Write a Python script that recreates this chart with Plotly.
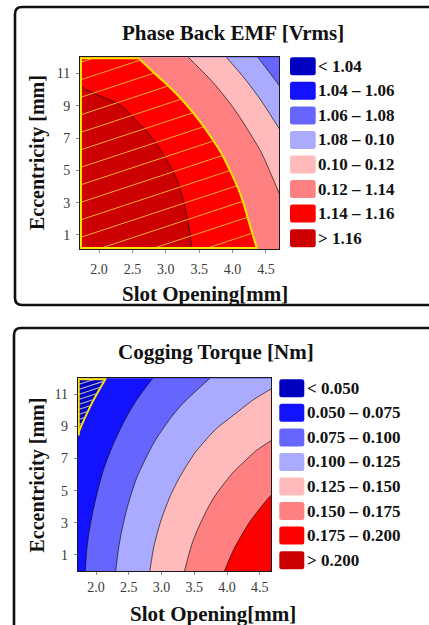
import numpy as np
import plotly.graph_objects as go

# ------------------------------------------------------------------ data
slot_opening = [1.7, 2.0, 2.3, 2.6, 2.9, 3.2, 3.5, 3.8, 4.1, 4.4, 4.7]   # x grid [mm]
eccentricity = [0, 1.5, 3, 4.5, 6, 7.5, 9, 10.5, 12]                     # y grid [mm]

# Phase back EMF [Vrms], rows = eccentricity, cols = slot opening
back_emf = [
    [1.1817, 1.1779, 1.1742, 1.1704, 1.1666, 1.1629, 1.1585, 1.1523, 1.1460, 1.1395, 1.1288],
    [1.1821, 1.1782, 1.1742, 1.1703, 1.1664, 1.1624, 1.1575, 1.1510, 1.1444, 1.1365, 1.1259],
    [1.1818, 1.1777, 1.1736, 1.1696, 1.1655, 1.1614, 1.1555, 1.1487, 1.1419, 1.1325, 1.1221],
    [1.1805, 1.1763, 1.1721, 1.1680, 1.1638, 1.1594, 1.1525, 1.1455, 1.1379, 1.1276, 1.1164],
    [1.1779, 1.1738, 1.1696, 1.1654, 1.1613, 1.1552, 1.1482, 1.1413, 1.1318, 1.1219, 1.1089],
    [1.1739, 1.1698, 1.1658, 1.1618, 1.1563, 1.1496, 1.1429, 1.1345, 1.1249, 1.1136, 1.1005],
    [1.1678, 1.1642, 1.1606, 1.1551, 1.1491, 1.1431, 1.1355, 1.1264, 1.1162, 1.1037, 1.0897],
    [1.1584, 1.1542, 1.1500, 1.1458, 1.1416, 1.1347, 1.1262, 1.1167, 1.1050, 1.0921, 1.0779],
    [1.1516, 1.1477, 1.1438, 1.1397, 1.1319, 1.1242, 1.1150, 1.1043, 1.0922, 1.0790, 1.0640],
]

# Cogging torque [Nm]
cogging_torque = [
    [0.0681, 0.0833, 0.1000, 0.1144, 0.1288, 0.1433, 0.1566, 0.1689, 0.1803, 0.1908, 0.2014],
    [0.0670, 0.0817, 0.0978, 0.1120, 0.1259, 0.1393, 0.1522, 0.1633, 0.1743, 0.1845, 0.1946],
    [0.0649, 0.0789, 0.0945, 0.1085, 0.1217, 0.1342, 0.1466, 0.1572, 0.1671, 0.1771, 0.1869],
    [0.0618, 0.0752, 0.0900, 0.1040, 0.1164, 0.1284, 0.1395, 0.1505, 0.1595, 0.1685, 0.1773],
    [0.0577, 0.0709, 0.0845, 0.0984, 0.1101, 0.1216, 0.1319, 0.1416, 0.1512, 0.1593, 0.1675],
    [0.0528, 0.0655, 0.0783, 0.0912, 0.1033, 0.1136, 0.1240, 0.1324, 0.1407, 0.1489, 0.1564],
    [0.0471, 0.0593, 0.0715, 0.0834, 0.0951, 0.1053, 0.1143, 0.1233, 0.1301, 0.1363, 0.1426],
    [0.0407, 0.0522, 0.0637, 0.0752, 0.0856, 0.0960, 0.1045, 0.1119, 0.1193, 0.1263, 0.1320],
    [0.0342, 0.0447, 0.0553, 0.0658, 0.0762, 0.0849, 0.0936, 0.1017, 0.1079, 0.1141, 0.1204],
]

emf_levels = [1.04, 1.06, 1.08, 1.10, 1.12, 1.14, 1.16]
cogging_levels = [0.050, 0.075, 0.100, 0.125, 0.150, 0.175, 0.200]
emf_limit = 1.14        # feasible region: EMF above this
cogging_limit = 0.050   # feasible region: torque below this

emf_labels = ["< 1.04", "1.04 – 1.06", "1.06 – 1.08", "1.08 – 0.10",
              "0.10 – 0.12", "0.12 – 1.14", "1.14 – 1.16", "> 1.16"]
cogging_labels = ["< 0.050", "0.050 – 0.075", "0.075 – 0.100", "0.100 – 0.125",
                  "0.125 – 0.150", "0.150 – 0.175", "0.175 – 0.200", "> 0.200"]

xtick_vals = [2.0, 2.5, 3.0, 3.5, 4.0, 4.5]
ytick_vals = [1, 3, 5, 7, 9, 11]

titles = ["Phase Back EMF [Vrms]", "Cogging Torque [Nm]"]
x_title = "Slot Opening[mm]"
y_title = "Eccentricity [mm]"

# ------------------------------------------------------------------ style
W, H = 429, 625
SERIF = "Liberation Serif, Times New Roman, serif"
band_colors = ["#0000C0", "#1212FF", "#6666FF", "#AAAAFF",
               "#FFBBBB", "#FF8080", "#FF0000", "#CC0000"]


def PX(x):
    return x / W


def PY(y):
    return 1 - y / H


def rrect(x0, y0, x1, y1, r):
    return (f"M {PX(x0 + r)},{PY(y0)} L {PX(x1 - r)},{PY(y0)} "
            f"Q {PX(x1)},{PY(y0)} {PX(x1)},{PY(y0 + r)} L {PX(x1)},{PY(y1 - r)} "
            f"Q {PX(x1)},{PY(y1)} {PX(x1 - r)},{PY(y1)} L {PX(x0 + r)},{PY(y1)} "
            f"Q {PX(x0)},{PY(y1)} {PX(x0)},{PY(y1 - r)} L {PX(x0)},{PY(y0 + r)} "
            f"Q {PX(x0)},{PY(y0)} {PX(x0 + r)},{PY(y0)} Z")


def bilinear(xg, yg, Z, xs, ys):
    xg = np.asarray(xg, float)
    yg = np.asarray(yg, float)
    Z = np.asarray(Z, float)
    i = np.clip(np.searchsorted(xg, xs) - 1, 0, len(xg) - 2)
    j = np.clip(np.searchsorted(yg, ys) - 1, 0, len(yg) - 2)
    tx = (xs - xg[i]) / (xg[i + 1] - xg[i])
    ty = (ys - yg[j]) / (yg[j + 1] - yg[j])
    z0 = (1 - tx) * Z[j, i] + tx * Z[j, i + 1]
    z1 = (1 - tx) * Z[j + 1, i] + tx * Z[j + 1, i + 1]
    return (1 - ty) * z0 + ty * z1


def masked_polyline(segs, inside, n=500):
    ox, oy = [], []
    for (x0, y0, x1, y1) in segs:
        t = np.linspace(0, 1, n)
        xs = x0 + (x1 - x0) * t
        ys = y0 + (y1 - y0) * t
        ok = inside(xs, ys)
        for x, y, k in zip(xs, ys, ok):
            if k:
                ox.append(float(x))
                oy.append(float(y))
            elif ox and ox[-1] is not None:
                ox.append(None)
                oy.append(None)
        if ox and ox[-1] is not None:
            ox.append(None)
            oy.append(None)
    return ox, oy


fig = go.Figure()

panels = [
    dict(Z=back_emf, levels=emf_levels, limit=emf_limit, above=True,
         box=(80, 57.3, 279.3, 249), xr=[1.715, 4.70], yr=[0.13, 12],
         hatch_color="#F2AE30", hatch_w=1.0, hatch_px=17.5,
         labels=emf_labels, sw=(290, 315.7), leg_y0=66.3, lab_x=316.0,
         title=(233, 33), xt=(205, 294), yt=(37, 153), standoff=4,
         border=(15, 7, 470, 305)),
    dict(Z=cogging_torque, levels=cogging_levels, limit=cogging_limit, above=False,
         box=(77.7, 378.3, 271, 571), xr=[1.72, 4.67], yr=[0, 12],
         hatch_color="#B9B6CC", hatch_w=1.1, hatch_px=5.0,
         labels=cogging_labels, sw=(279.3, 304.3), leg_y0=388.3, lab_x=304.6,
         title=(216, 352), xt=(213, 614), yt=(36.5, 475), standoff=0,
         border=(14, 328, 470, 700)),
]

shapes, annotations = [], []
layout_axes = {}

for idx, p in enumerate(panels, start=1):
    xa = "x" if idx == 1 else f"x{idx}"
    ya = "y" if idx == 1 else f"y{idx}"
    lv = p["levels"]
    cs = round(lv[1] - lv[0], 6)
    Z = p["Z"]

    # filled contour bands
    fig.add_trace(go.Contour(
        x=slot_opening, y=eccentricity, z=Z, xaxis=xa, yaxis=ya,
        autocontour=False,
        contours=dict(start=lv[0], end=lv[-1], size=cs, coloring="fill", showlines=True),
        colorscale=[[k / 7, c] for k, c in enumerate(band_colors)],
        line=dict(color="rgba(15,15,15,0.85)", width=0.8, smoothing=1.0),
        showscale=False, hoverinfo="skip"))

    xr, yr = p["xr"], p["yr"]
    bx0, by0, bx1, by1 = p["box"]
    ppx = (bx1 - bx0) / (xr[1] - xr[0])
    ppy = (by1 - by0) / (yr[1] - yr[0])

    def inside(xs, ys, Z=Z, p=p, xr=xr, yr=yr):
        v = bilinear(slot_opening, eccentricity, Z, xs, ys)
        ok = (v > p["limit"]) if p["above"] else (v < p["limit"])
        return ok & (xs >= xr[0] - 1e-9) & (xs <= xr[1] + 1e-9) & (ys >= yr[0] - 1e-9) & (ys <= yr[1] + 1e-9)

    # hatch of the feasible region
    m = 0.33 * ppx / ppy
    dy = p["hatch_px"] / ppy
    span = xr[1] - xr[0]
    segs = []
    c = yr[1] - dy * 0.3
    while c > yr[0] - m * span:
        segs.append((xr[0], c, xr[1], c + m * span))
        c -= dy
    hx, hy = masked_polyline(segs, inside, n=700)
    fig.add_trace(go.Scatter(x=hx, y=hy, xaxis=xa, yaxis=ya, mode="lines",
                             line=dict(color=p["hatch_color"], width=p["hatch_w"]),
                             hoverinfo="skip", showlegend=False))

    # yellow boundary of the feasible region
    fig.add_trace(go.Contour(
        x=slot_opening, y=eccentricity, z=Z, xaxis=xa, yaxis=ya,
        autocontour=False,
        contours=dict(start=p["limit"], end=p["limit"], size=cs, coloring="none", showlines=True),
        line=dict(color="#FFE400", width=2.0, smoothing=1.0),
        showscale=False, hoverinfo="skip"))
    edges = [(xr[0], yr[0], xr[0], yr[1]), (xr[0], yr[1], xr[1], yr[1]),
             (xr[1], yr[1], xr[1], yr[0]), (xr[1], yr[0], xr[0], yr[0])]
    ex, ey = masked_polyline(edges, inside, n=800)
    fig.add_trace(go.Scatter(x=ex, y=ey, xaxis=xa, yaxis=ya, mode="lines",
                             line=dict(color="#FFE400", width=4.0),
                             hoverinfo="skip", showlegend=False))

    # axes
    common = dict(showline=True, mirror=True, linecolor="#1a1a1a", linewidth=1,
                  ticks="outside", ticklen=3, tickwidth=1, tickcolor="#8a8a8a",
                  showgrid=False, zeroline=False,
                  tickfont=dict(family=SERIF, size=14, color="#3a3a3a"))
    layout_axes["xaxis" if idx == 1 else f"xaxis{idx}"] = dict(
        domain=[PX(bx0), PX(bx1)], range=xr, tickvals=xtick_vals, tickformat=".1f",
        anchor=ya, ticklabelstandoff=p["standoff"], **common)
    layout_axes["yaxis" if idx == 1 else f"yaxis{idx}"] = dict(
        domain=[PY(by1), PY(by0)], range=yr, tickvals=ytick_vals,
        anchor=xa, ticklabelstandoff=3, **common)

    # panel border
    x0, y0, x1, y1 = p["border"]
    shapes.append(dict(type="path", xref="paper", yref="paper", path=rrect(x0, y0, x1, y1, 7),
                       line=dict(color="#111", width=2.6), fillcolor="rgba(0,0,0,0)", layer="above"))

    # legend
    sx0, sx1 = p["sw"]
    for k, (lab, col) in enumerate(zip(p["labels"], band_colors)):
        cy = p["leg_y0"] + k * 24.55
        shapes.append(dict(type="path", xref="paper", yref="paper",
                           path=rrect(sx0, cy - 9, sx1, cy + 9, 2.5),
                           line=dict(width=0), fillcolor=col))
        txt = lab.replace("<", "&lt;").replace(">", "&gt;")
        annotations.append(dict(xref="paper", yref="paper", x=PX(p["lab_x"]), y=PY(cy),
                                xanchor="left", yanchor="middle", showarrow=False,
                                text=f"<b>{txt}</b>",
                                font=dict(family=SERIF, size=17, color="#111")))

    # titles
    tx, ty = p["title"]
    annotations.append(dict(xref="paper", yref="paper", x=PX(tx), y=PY(ty), xanchor="center",
                            yanchor="middle", showarrow=False, text=f"<b>{titles[idx - 1]}</b>",
                            font=dict(family=SERIF, size=21, color="#111")))
    tx, ty = p["xt"]
    annotations.append(dict(xref="paper", yref="paper", x=PX(tx), y=PY(ty), xanchor="center",
                            yanchor="middle", showarrow=False, text=f"<b>{x_title}</b>",
                            font=dict(family=SERIF, size=21, color="#111")))
    tx, ty = p["yt"]
    annotations.append(dict(xref="paper", yref="paper", x=PX(tx), y=PY(ty), xanchor="center",
                            yanchor="middle", showarrow=False, textangle=-90,
                            text=f"<b>{y_title}</b>",
                            font=dict(family=SERIF, size=20, color="#111")))

fig.update_layout(
    width=W, height=H, autosize=False,
    margin=dict(l=0, r=0, t=0, b=0),
    paper_bgcolor="white", plot_bgcolor="white",
    showlegend=False,
    shapes=shapes, annotations=annotations,
    **layout_axes,
)

fig.write_html("out.html")
